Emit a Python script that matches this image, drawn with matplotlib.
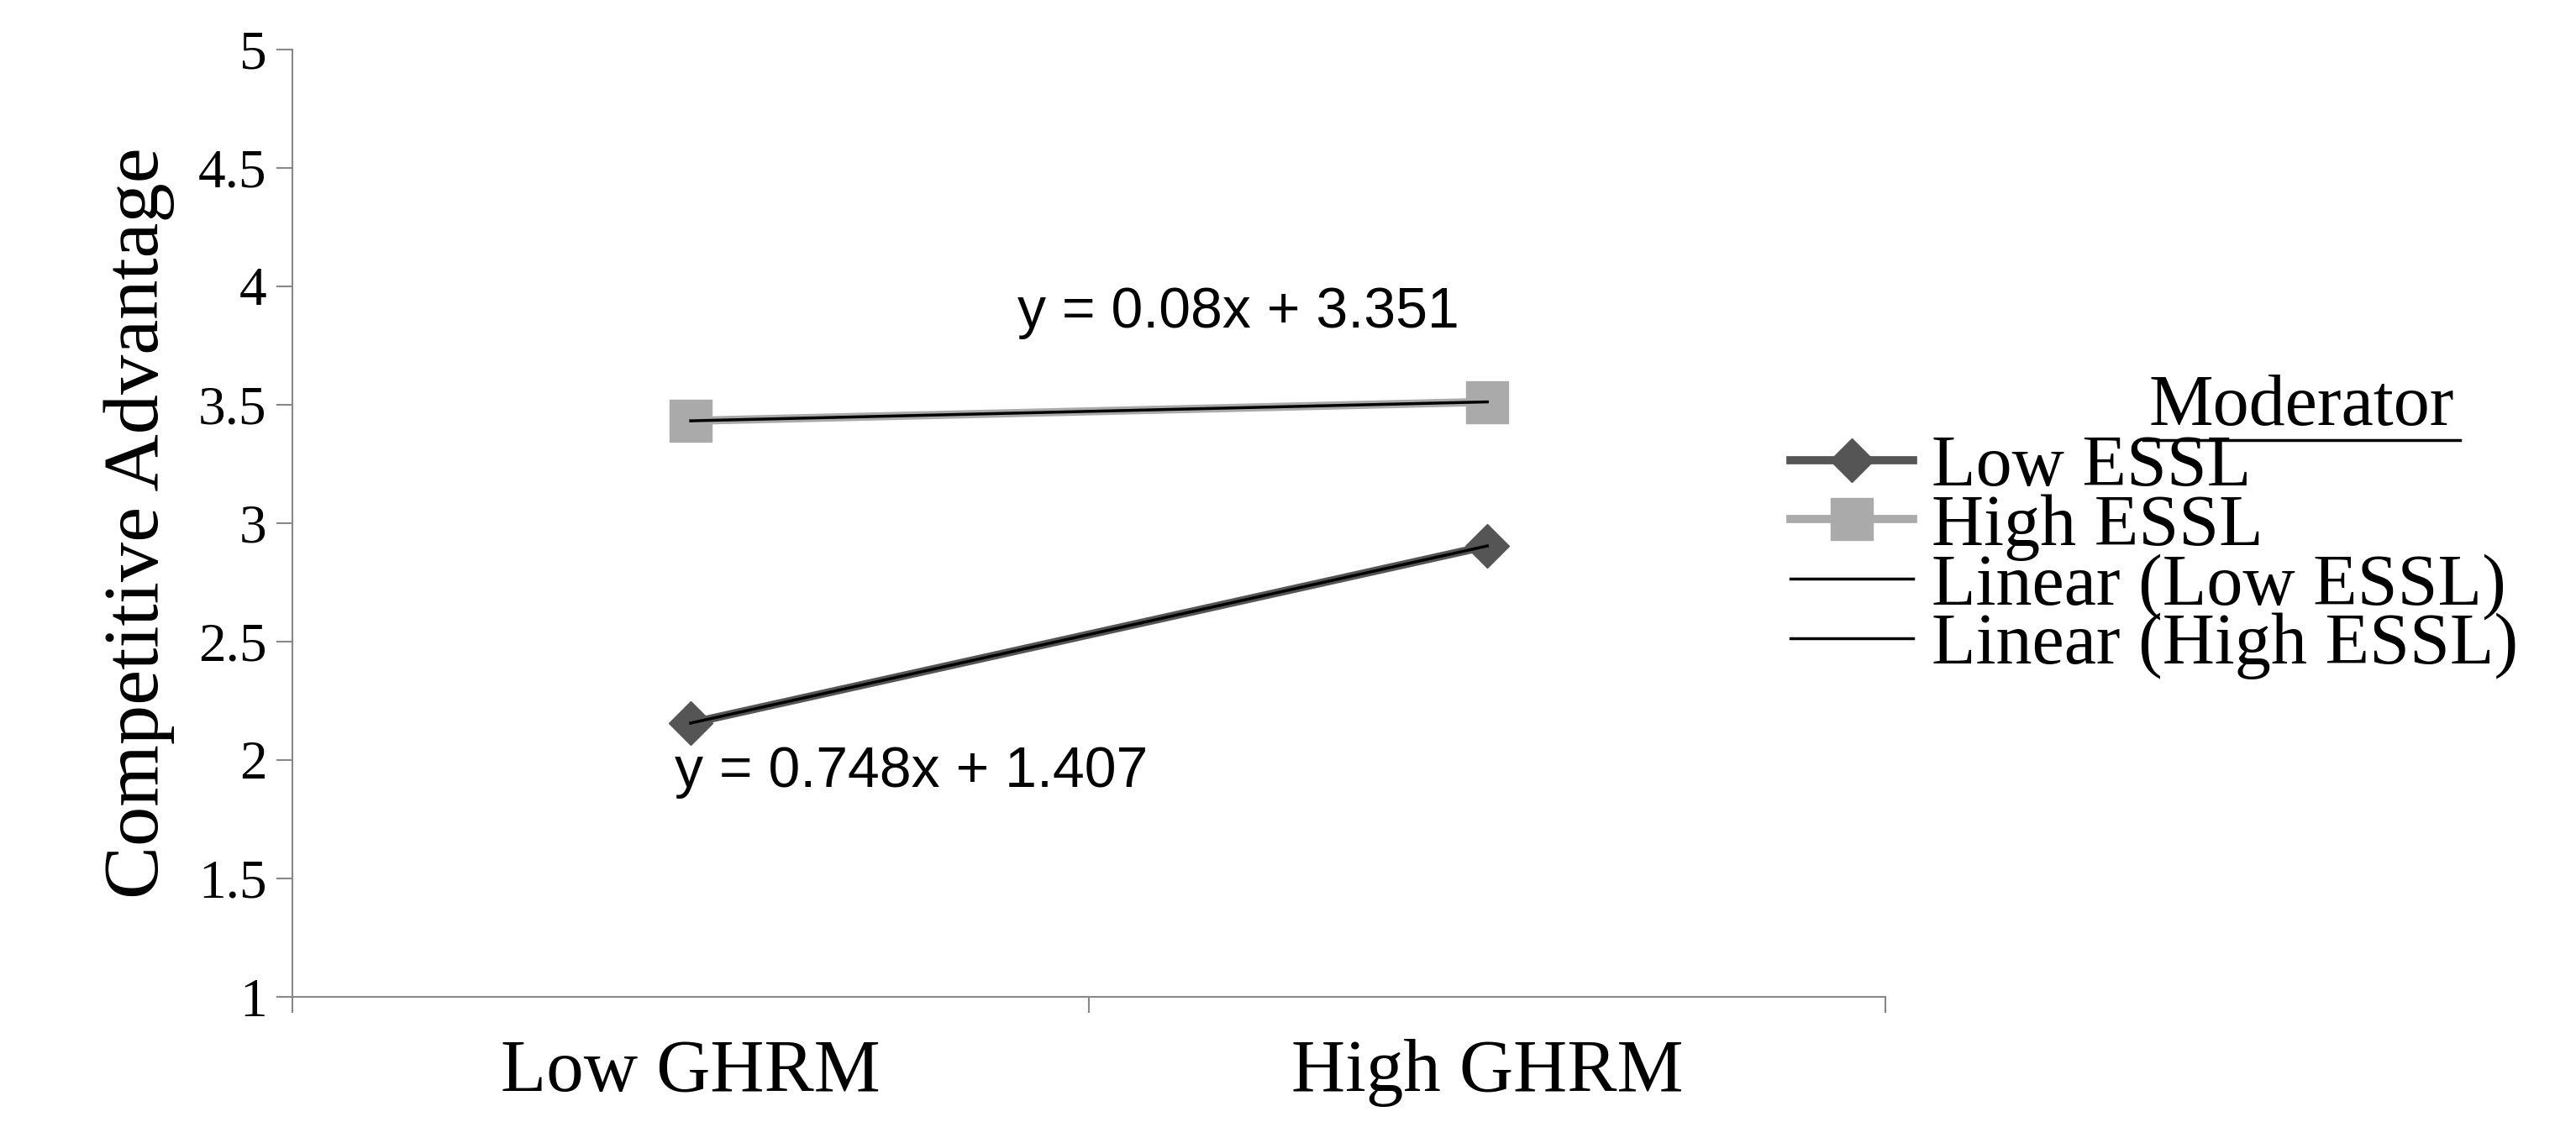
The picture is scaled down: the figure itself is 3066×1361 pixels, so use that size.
import matplotlib
matplotlib.use("Agg")
import matplotlib.pyplot as plt
from matplotlib.lines import Line2D

categories = ["Low GHRM", "High GHRM"]
low_essl = [2.155, 2.903]
high_essl = [3.431, 3.511]
low_eq = "y = 0.748x + 1.407"
high_eq = "y = 0.08x + 3.351"

serif = ["Liberation Serif", "DejaVu Serif"]
fig = plt.figure(figsize=(30.66, 13.61), dpi=100)
ax = fig.add_axes([0.1135, 0.128, 0.6185, 0.829])

xs = [0.5, 1.5]
ax.plot(xs, low_essl, color="#555555", lw=7, marker="D", ms=26, label="Low ESSL", zorder=3)
ax.plot(xs, high_essl, color="#aaaaaa", lw=7, marker="s", ms=36, label="High ESSL", zorder=3)
ax.plot(xs, low_essl, color="black", lw=2.5, label="Linear (Low ESSL)", zorder=4)
ax.plot(xs, high_essl, color="black", lw=2.5, label="Linear (High ESSL)", zorder=4)

ax.text(0.48, 1.95, low_eq, fontsize=49, family=["Liberation Sans"], ha="left", va="center")
ax.text(0.91, 3.89, high_eq, fontsize=49, family=["Liberation Sans"], ha="left", va="center")

ax.set_xlim(0, 2)
ax.set_ylim(1, 5)
ax.set_yticks([1, 1.5, 2, 2.5, 3, 3.5, 4, 4.5, 5])
ax.set_yticklabels(["1", "1.5", "2", "2.5", "3", "3.5", "4", "4.5", "5"], family=serif, fontsize=47)
ax.set_xticks([0, 1, 2])
ax.set_xticklabels([])
ax.set_xticks(xs, minor=True)
ax.set_xticklabels(categories, minor=True, family=serif, fontsize=64)
ax.tick_params(axis="x", which="major", length=14, width=1.5, color="#888888")
ax.tick_params(axis="x", which="minor", length=0, pad=36)
ax.tick_params(axis="y", length=14, width=1.5, color="#888888", pad=8)
for s in ["top", "right"]:
    ax.spines[s].set_visible(False)
for s in ["left", "bottom"]:
    ax.spines[s].set_color("#888888")
    ax.spines[s].set_linewidth(1.5)
ax.set_ylabel("Competitive Advantage", family=serif, fontsize=68, labelpad=20)

leg = fig.legend(loc="upper left", bbox_to_anchor=(0.695, 0.62), frameon=False,
                 prop={"family": serif, "size": 62},
                 handlelength=1.7, handletextpad=0.25, labelspacing=-0.1,
                 borderaxespad=0, borderpad=0)
fig.text(0.8935, 0.628, "Moderator", family=serif, fontsize=62, ha="center", va="baseline")
fig.add_artist(Line2D([0.832, 0.955], [0.615, 0.615], color="black", lw=2.5))

fig.savefig("out.png", dpi=100)
